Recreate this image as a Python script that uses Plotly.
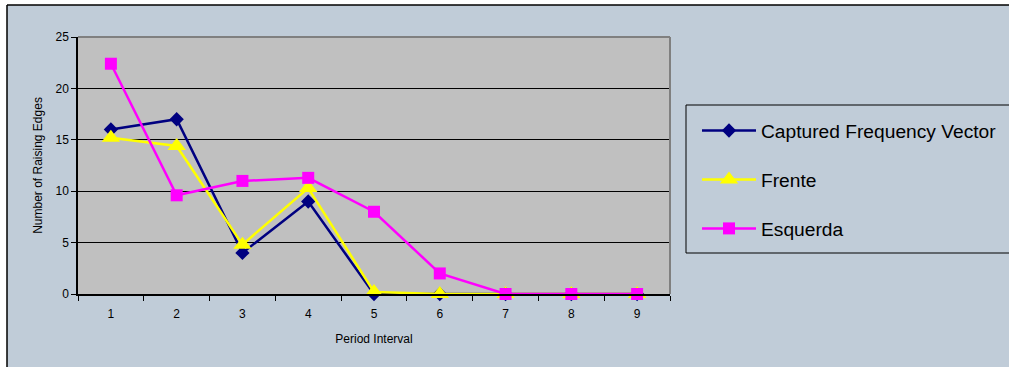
import plotly.graph_objects as go

periods = [1, 2, 3, 4, 5, 6, 7, 8, 9]
captured = [16, 17, 4, 9, 0, 0, 0, 0, 0]
frente = [15.2, 14.4, 4.8, 10.3, 0.2, 0, 0, 0, 0]
esquerda = [22.4, 9.6, 11.0, 11.3, 8.0, 2.0, 0, 0, 0]

series = [
    ("Captured Frequency Vector", captured, "#000080", "diamond", 11),
    ("Frente", frente, "#FFFF00", "triangle-up", 16),
    ("Esquerda", esquerda, "#FF00FF", "square", 12),
]

fig = go.Figure()
for i, (name, vals, col, sym, sz) in enumerate(series):
    fig.add_trace(go.Scatter(
        x=periods, y=vals, name=name, mode="lines+markers",
        line=dict(color=col, width=2.5),
        marker=dict(symbol=sym, size=sz, color=col, line=dict(width=0)),
        legendgroup=f"g{i}",
        cliponaxis=False,
    ))

W, H = 1009, 367
L, R, T, B = 78, 670, 37, 294
pw, ph = R - L, B - T

def px(xp):
    return (xp - L) / pw

def py(yp):
    return (B - yp) / ph

shapes = [
    dict(type="rect", xref="paper", yref="paper", x0=px(-5), x1=px(7), y0=py(380), y1=py(-5),
         fillcolor="white", line=dict(width=0), layer="above"),
    dict(type="rect", xref="paper", yref="paper", x0=px(-5), x1=px(1015), y0=py(5), y1=py(-5),
         fillcolor="white", line=dict(width=0), layer="above"),
    dict(type="line", xref="paper", yref="paper", x0=px(7), x1=px(7), y0=py(380), y1=py(5),
         line=dict(color="black", width=1.5), layer="above"),
    dict(type="line", xref="paper", yref="paper", x0=px(7), x1=px(1015), y0=py(5), y1=py(5),
         line=dict(color="black", width=1.5), layer="above"),
    dict(type="line", xref="paper", yref="paper", x0=0, x1=1, y0=1, y1=1,
         line=dict(color="#808080", width=2), layer="above"),
    dict(type="line", xref="paper", yref="paper", x0=1, x1=1, y0=0, y1=1,
         line=dict(color="#808080", width=2), layer="above"),
    # legend frame (runs off the right edge, as in the original)
    dict(type="rect", xref="paper", yref="paper", x0=px(686), x1=px(1020), y0=py(253), y1=py(105),
         fillcolor="rgba(0,0,0,0)", line=dict(color="black", width=1), layer="above"),
]

fig.update_layout(
    width=W, height=H,
    margin=dict(l=L, r=W - R, t=T, b=H - B, pad=0, autoexpand=False),
    paper_bgcolor="#C0CCD8",
    plot_bgcolor="#C0C0C0",
    font=dict(family="Liberation Sans, Arial, sans-serif", size=12, color="black"),
    showlegend=True,
    legend=dict(
        x=px(697), y=py(105), xanchor="left", yanchor="top",
        borderwidth=0, bgcolor="rgba(0,0,0,0)",
        font=dict(size=19.2, color="black"),
        itemwidth=54, tracegroupgap=21,
        title=dict(text=" ", font=dict(size=5)),
    ),
    shapes=shapes,
)

fig.update_xaxes(
    range=[0.5, 9.5], tickmode="array", tickvals=periods,
    ticktext=[str(p) for p in periods], ticks="", showgrid=False,
    zeroline=False, showline=True, linecolor="black", linewidth=1.5,
    minor=dict(ticks="outside", tick0=0.5, dtick=1, ticklen=5, tickcolor="black", tickwidth=1, showgrid=False),
    title=dict(text="Period Interval", font=dict(size=12), standoff=14),
    tickfont=dict(size=12), ticklabelstandoff=8,
)
fig.update_yaxes(
    range=[0, 25], tickmode="linear", tick0=0, dtick=5,
    ticks="outside", ticklen=5, tickcolor="black", tickwidth=1,
    showgrid=True, gridcolor="black", gridwidth=1,
    zeroline=False, showline=True, linecolor="black", linewidth=1.5,
    title=dict(text="Number of Raising Edges", font=dict(size=12), standoff=10),
    tickfont=dict(size=12),
)

fig.write_html("out.html", config={"displayModeBar": False},
               post_script="document.body.style.margin='0px';")
